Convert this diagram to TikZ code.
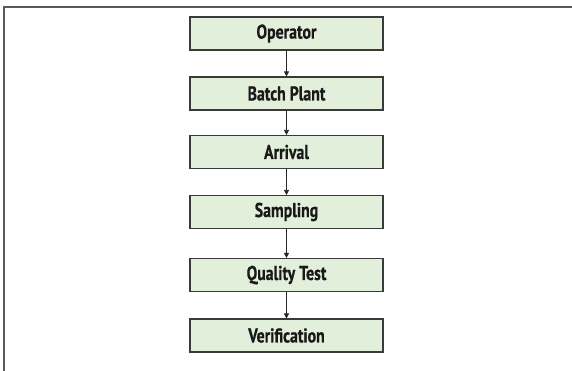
\documentclass[tikz,border=0pt]{standalone}
\usepackage{fontspec}
\setmainfont{PT Sans}[BoldFeatures={FakeStretch=0.79,FakeBold=0.6}]
\usetikzlibrary{arrows.meta}
\definecolor{boxfill}{HTML}{E2EFDA}
\definecolor{boxline}{HTML}{3A3A3A}
\definecolor{frameline}{HTML}{5A5A5A}
\tikzset{
  stepbox/.style={draw=boxline, line width=1.1pt, fill=boxfill,
    minimum width=193pt, minimum height=33pt, inner sep=0pt,
    font=\fontsize{20}{22}\selectfont\bfseries, text=black!90},
  flow/.style={draw=black!85, line width=0.8pt, -{Triangle[length=5pt,width=5pt]}}
}
\begin{document}
\begin{tikzpicture}[x=1pt,y=-1pt]
  \useasboundingbox (0,0) rectangle (572,371);
  \fill[white] (0,0) rectangle (572,371);
  % page frame
  \draw[frameline, line width=1.5pt] (4,371) -- (4,7) -- (572,7);
  % process steps
  \node[stepbox] (op)  at (286.5,33.5) {Operator};
  \node[stepbox] (bp)  at (286.5,93.5) {Batch Plant};
  \node[stepbox] (ar)  at (286.5,152) {Arrival};
  \node[stepbox] (sa)  at (286.5,212) {Sampling};
  \node[stepbox] (qt)  at (286.5,275) {Quality Test};
  \node[stepbox] (ve)  at (286.5,335.5) {Verification};
  % connectors
  \draw[flow] (op) -- (bp);
  \draw[flow] (bp) -- (ar);
  \draw[flow] (ar) -- (sa);
  \draw[flow] (sa) -- (qt);
  \draw[flow] (qt) -- (ve);
\end{tikzpicture}
\end{document}
